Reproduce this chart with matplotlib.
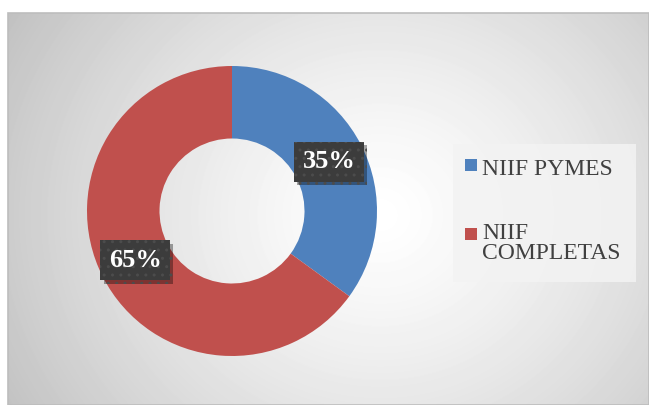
import numpy as np
import matplotlib.pyplot as plt
import matplotlib.patheffects as pe
from matplotlib.patches import Rectangle

# share of companies by reporting framework
labels = ['NIIF PYMES', 'NIIF\nCOMPLETAS']
shares = [35, 65]
colors = ['#4f81bd', '#c0504d']

W, H = 649, 405
fig = plt.figure(figsize=(W / 100, H / 100), dpi=100)
fig.patch.set_facecolor('white')


def fx(px):
    return px / W


def fy(py):
    return 1 - py / H


# chart area with a soft radial shading
bg = fig.add_axes([fx(8), 0, fx(W) - fx(8), fy(13)])
bg.set_axis_off()
yy, xx = np.mgrid[13:H, 8:W]
d = np.hypot(xx - 380, (yy - 215) * 1.1) / 430
shade = 1 - 0.24 * np.clip(d, 0, 1.2) ** 1.3
bg.imshow(shade, cmap='gray', vmin=0, vmax=1, aspect='auto',
          extent=[0, 1, 0, 1], interpolation='bilinear')
bg.set_xlim(0, 1)
bg.set_ylim(0, 1)
fig.add_artist(Rectangle((fx(8), 0), fx(W) - fx(8), fy(13), transform=fig.transFigure,
                         fill=False, edgecolor='#bdbdbd', linewidth=1.2))

# donut
cx, cy, r = 232, 211, 145
box = 160
ax = fig.add_axes([fx(cx - box), fy(cy + box), 2 * box / W, 2 * box / H])
ax.set_axis_off()
ax.patch.set_alpha(0)
wedges, _, pcts = ax.pie(shares, colors=colors, startangle=90, counterclock=False,
                         radius=1, wedgeprops=dict(width=0.5, linewidth=0),
                         autopct=lambda p: f'{p:.0f}%', pctdistance=0.75)
lim = box / r
ax.set_xlim(-lim, lim)
ax.set_ylim(-lim, lim)

for t in pcts:
    t.set_fontfamily('Liberation Serif')
    t.set_fontweight('bold')
    t.set_fontsize(19)
    t.set_color('white')
    t.set_bbox(dict(boxstyle='square,pad=0.32', facecolor='#3c3c3c', edgecolor='#4c4c4c',
                    linewidth=0, hatch='..'))
    t.get_bbox_patch().set_path_effects([
        pe.SimplePatchShadow(offset=(2.5, -2.5), shadow_rgbFace='black', alpha=0.35),
        pe.Normal()])

# legend panel
fig.add_artist(Rectangle((fx(453), fy(282)), fx(636) - fx(453), fy(144) - fy(282),
                         transform=fig.transFigure, facecolor='#f3f3f3', alpha=0.85,
                         edgecolor='none'))
entry_y = [165, 234]
for lab, col, ey in zip(labels, colors, entry_y):
    fig.add_artist(Rectangle((fx(465), fy(ey + 6)), 12 / W, 12 / H,
                             transform=fig.transFigure, facecolor=col, edgecolor='none'))
    if '\n' in lab:
        fig.text(fx(482), fy(ey - 11), lab, fontfamily='Liberation Serif', fontsize=17,
                 color='#404040', va='top', ha='left', linespacing=0.95)
    else:
        fig.text(fx(482), fy(ey + 10), lab, fontfamily='Liberation Serif', fontsize=17,
                 color='#404040', va='baseline', ha='left')

fig.savefig('out.png', dpi=100)
